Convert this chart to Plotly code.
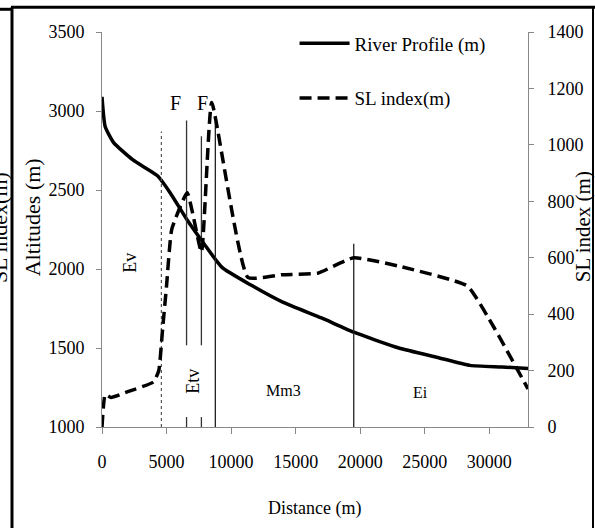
import plotly.graph_objects as go

# ---- data ----
river_dist = [0, 250, 900, 2400, 4300, 5300, 6600, 7900, 9300, 11500, 14000, 17000, 19500, 23000, 26000, 28500, 31000, 33000]
river_alt = [3090, 2900, 2800, 2690, 2590, 2480, 2310, 2160, 2010, 1900, 1790, 1690, 1600, 1500, 1440, 1390, 1380, 1370]

sl_dist = [0, 250, 700, 2000, 4000, 4400, 4700, 5000, 5400, 6600, 7700, 8500, 11300, 14000, 16700, 19500, 23000, 28300, 30400, 33000]
sl_val = [0, 115, 105, 125, 160, 200, 350, 500, 700, 830, 620, 1150, 530, 540, 545, 600, 570, 500, 350, 135]

ev_line_x = 4600
ev_line_top = 2870
fault_x = [6550, 7700]
fault_top = [2940, 2840]
fault_gap = [1063, 1517]
contact_x = [8780, 19500]
contact_top = [2930, 2160]

x_ticks = [0, 5000, 10000, 15000, 20000, 25000, 30000]
alt_ticks = [1000, 1500, 2000, 2500, 3000, 3500]
sl_ticks = [0, 200, 400, 600, 800, 1000, 1200, 1400]

fault_labels = ["F", "F"]
fault_label_x = [5680, 7750]
unit_labels = ["Ev", "Etv", "Mm3", "Ei"]
unit_label_x = [2190, 7080, 14050, 24670]
unit_label_y = [2042, 1289, 1232, 1220]
unit_label_rot = [-90, -90, 0, 0]
unit_label_size = [18, 18, 16, 16]

FONT = "Liberation Serif"
AX = "#888888"

fig = go.Figure()

fig.add_trace(go.Scatter(x=river_dist, y=river_alt, mode="lines", name="River Profile (m)",
                         line=dict(color="black", width=3.5, shape="spline", smoothing=0.5),
                         legendgroup="a"))
fig.add_trace(go.Scatter(x=sl_dist, y=sl_val, mode="lines", name="SL index(m)", yaxis="y2",
                         line=dict(color="black", width=3.5, dash="12px,6px", shape="spline", smoothing=0.4),
                         legendgroup="b"))

# boundary lines
fig.add_trace(go.Scatter(x=[ev_line_x, ev_line_x], y=[1000, ev_line_top], mode="lines",
                         line=dict(color="#555555", width=1.2, dash="dot"), showlegend=False))
fx, fy = [], []
for x, t in zip(fault_x, fault_top):
    fx += [x, x, None, x, x, None]
    fy += [t, fault_gap[1], None, fault_gap[0], 1000, None]
fig.add_trace(go.Scatter(x=fx, y=fy, mode="lines", line=dict(color="#333333", width=1.3), showlegend=False))
cx, cy = [], []
for x, t in zip(contact_x, contact_top):
    cx += [x, x, None]
    cy += [1000, t, None]
fig.add_trace(go.Scatter(x=cx, y=cy, mode="lines", line=dict(color="#222222", width=1.3), showlegend=False))

ann = []
for t, x in zip(fault_labels, fault_label_x):
    ann.append(dict(x=x, y=3049, xref="x", yref="y", text=t, showarrow=False,
                    font=dict(family=FONT, size=20, color="black")))
for t, x, y, r, s in zip(unit_labels, unit_label_x, unit_label_y, unit_label_rot, unit_label_size):
    ann.append(dict(x=x, y=y, xref="x", yref="y", text=t, showarrow=False, textangle=r,
                    font=dict(family=FONT, size=s, color="black")))
ann += [
    dict(x=-0.1643, y=0.531, xref="paper", yref="paper", text="Altitudes (m)", showarrow=False,
         xanchor="center", yanchor="middle",
         textangle=-90, font=dict(family=FONT, size=22, color="black")),
    dict(x=1.129, y=0.508, xref="paper", yref="paper", text="SL index (m)", showarrow=False,
         xanchor="center", yanchor="middle",
         textangle=-90, font=dict(family=FONT, size=21, color="black")),
    dict(x=0.4977, y=-0.206, xref="paper", yref="paper", text="Distance (m)", showarrow=False,
         xanchor="center", yanchor="middle",
         font=dict(family=FONT, size=18, color="black")),
    dict(x=-0.2418, y=0.506, xref="paper", yref="paper", text="SL index(m)", showarrow=False,
         xanchor="center", yanchor="middle",
         textangle=-90, font=dict(family=FONT, size=22, color="black")),
]

shapes = [
    dict(type="line", xref="paper", yref="paper", x0=-0.2136, x1=1.16, y0=1.0625, y1=1.0625,
         line=dict(color="black", width=3)),
    dict(type="line", xref="paper", yref="paper", x0=-0.2113, x1=-0.2113, y0=1.0625, y1=-0.27,
         line=dict(color="black", width=3)),
    dict(type="line", xref="paper", yref="paper", x0=1.1526, x1=1.1526, y0=1.0625, y1=-0.27,
         line=dict(color="black", width=2)),
    dict(type="line", xref="paper", yref="paper", x0=-0.25, x1=-0.2136, y0=1.0575, y1=1.0575,
         line=dict(color="black", width=3)),
]

tickfont = dict(family=FONT, size=18, color="black")
fig.update_layout(
    width=595, height=528,
    margin=dict(l=102, r=67, t=32, b=101),
    paper_bgcolor="white", plot_bgcolor="white",
    showlegend=True,
    legend=dict(x=0.452, y=1.019, xanchor="left", yanchor="top", traceorder="grouped",
                tracegroupgap=27, itemwidth=50, bgcolor="rgba(0,0,0,0)",
                font=dict(family=FONT, size=19, color="black")),
    xaxis=dict(range=[0, 33000], tickvals=x_ticks, ticktext=[str(v) for v in x_ticks],
               showgrid=False, zeroline=False, showline=True, linecolor=AX, linewidth=1,
               ticks="outside", ticklen=6, tickcolor=AX, tickfont=tickfont, ticklabelstandoff=12),
    yaxis=dict(range=[1000, 3500], tickvals=alt_ticks, ticktext=[str(v) for v in alt_ticks],
               showgrid=False, zeroline=False, showline=True, linecolor=AX, linewidth=1,
               ticks="outside", ticklen=5, tickcolor=AX, tickfont=tickfont, ticklabelstandoff=8),
    yaxis2=dict(range=[0, 1400], tickvals=sl_ticks, ticktext=[str(v) for v in sl_ticks],
                overlaying="y", side="right", anchor="x",
                showgrid=False, zeroline=False, showline=True, linecolor=AX, linewidth=1,
                ticks="outside", ticklen=5, tickcolor=AX, tickfont=tickfont, ticklabelstandoff=10),
    annotations=ann,
    shapes=shapes,
)

fig.write_html("out.html", config={"displayModeBar": False},
               post_script="document.body.style.margin='0px';")
